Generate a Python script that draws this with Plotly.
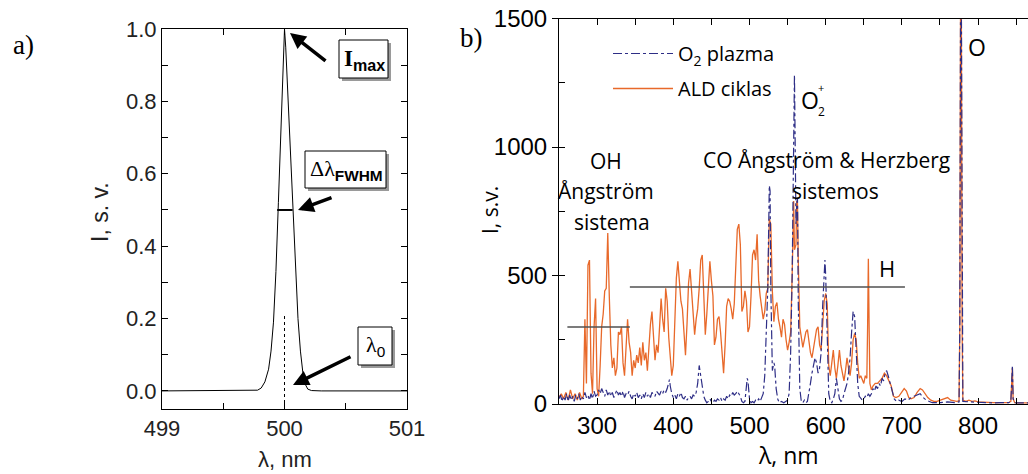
import plotly.graph_objects as go

W, H = 1028, 474


def fx(p):
    return p / W


def fy(p):
    return 1 - p / H


# ---------------- Panel a) data ----------------
peak_wavelength = [499.0, 499.7, 499.78, 499.81, 499.84, 499.87, 499.89, 499.91, 499.93, 499.95,
                   499.97, 499.99, 500.0, 500.01, 500.03, 500.05, 500.07, 500.09, 500.11, 500.13,
                   500.15, 500.17, 500.19, 500.22, 500.3, 501.0]
peak_intensity = [0, 0, 0.002, 0.008, 0.025, 0.06, 0.11, 0.19, 0.33, 0.52,
                  0.72, 0.92, 1.0, 0.95, 0.8, 0.62, 0.46, 0.32, 0.2, 0.11,
                  0.05, 0.018, 0.005, 0.001, 0, 0]
center_line_x = [500.0, 500.0]
center_line_y = [-0.05, 0.21]
fwhm_x = [499.94, 500.066]
fwhm_y = [0.5, 0.5]

# ---------------- Panel b) data ----------------
ald_wavelength = [250, 253, 256, 259, 262, 265, 268, 271, 274, 277, 280, 282,
                  284, 286, 288, 290, 292, 294, 296, 298, 300, 302, 304, 306, 308, 310, 312, 314, 316, 318,
                  320, 322, 324, 326, 328, 330, 332, 334, 336, 338, 340, 342, 344, 346, 348, 350, 352, 354,
                  356, 358, 360, 362, 364, 366, 368, 370, 372, 374, 376, 378, 380, 382, 384, 386, 388, 390,
                  392, 394, 396, 398, 400, 402, 404, 406, 408, 410, 412, 414, 416, 418, 420, 422, 424, 426,
                  428, 430, 432, 434, 436, 438, 440, 442, 444, 446, 448, 450, 452, 454, 456, 458, 460, 462,
                  464, 466, 468, 470, 472, 474, 476, 478, 480, 482, 484, 486, 488, 490, 492, 494, 496, 498,
                  500, 502, 504, 506, 508, 510, 512, 514, 516, 518, 520, 522, 524, 526, 528, 530, 532, 534,
                  536, 538, 540, 542, 544, 546, 548, 550, 552, 554, 556, 557, 558, 559, 561, 562, 563, 564,
                  566, 568, 570, 572, 574, 576, 578, 580, 582, 584, 586, 588, 590, 592, 594, 596, 598, 600,
                  602, 604, 606, 608, 610, 612, 614, 616, 618, 620, 622, 624, 626, 628, 630, 632, 634, 636,
                  638, 640, 642, 644, 646, 648, 650, 652, 654, 655, 656, 657, 658, 660, 662, 665, 668, 671,
                  674, 677, 680, 683, 686, 689, 692, 696, 700, 703, 706, 709, 712, 716, 720, 724, 727, 730,
                  734, 738, 742, 746, 750, 755, 760, 764, 768, 772, 775, 776, 777, 778, 779, 780, 784, 788,
                  792, 796, 800, 810, 820, 830, 840, 843, 844, 845, 846, 848, 855, 866]
ald_intensity = [25, 40, 20, 45, 15, 55, 20, 40, 15, 45, 20, 30,
                 330, 80, 540, 560, 120, 40, 300, 410, 60, 30, 150, 300, 350, 440, 450, 665, 420, 230,
                 140, 180, 110, 140, 280, 270, 300, 160, 110, 230, 330, 240, 200, 110, 170, 140, 190, 160,
                 220, 150, 240, 170, 200, 130, 240, 310, 360, 260, 170, 230, 200, 300, 410, 330, 280, 450,
                 400, 260, 180, 110, 150, 320, 490, 555, 480, 400, 370, 260, 190, 310, 470, 525, 430, 350,
                 270, 330, 370, 450, 560, 580, 380, 270, 350, 480, 555, 480, 420, 230, 260, 330, 340, 280,
                 200, 120, 230, 380, 410, 400, 370, 330, 390, 520, 680, 700, 620, 360, 380, 440, 400, 280,
                 300, 420, 580, 600, 560, 660, 480, 420, 370, 330, 360, 430, 450, 720, 700, 440, 320, 380,
                 395, 330, 300, 260, 330, 310, 250, 210, 240, 280, 500, 780, 790, 600, 620, 790, 780, 560,
                 300, 260, 220, 250, 280, 290, 240, 200, 180, 220, 260, 290, 300, 230, 210, 320, 400, 430,
                 390, 150, 110, 160, 210, 140, 100, 150, 210, 150, 110, 90, 130, 180, 140, 110, 160, 250,
                 275, 250, 160, 100, 110, 90, 80, 110, 100, 300, 565, 300, 80, 55, 70, 80, 80, 90,
                 100, 120, 110, 90, 70, 30, 25, 30, 45, 60, 50, 25, 20, 25, 45, 60, 55, 40,
                 25, 15, 10, 10, 15, 20, 25, 15, 12, 10, 12, 300, 1600, 1600, 300, 15, 10, 15,
                 10, 12, 8, 6, 5, 5, 5, 10, 120, 140, 20, 5, 4, 4]

o2_wavelength = [250, 252, 254, 256, 258, 260, 262, 264, 266, 268, 270, 272, 274, 276, 278, 280, 282, 284,
                 286, 288, 290, 292, 294, 296, 298, 300, 302, 304, 306, 308, 310, 312, 314, 316, 318, 320,
                 322, 324, 326, 328, 330, 332, 334, 336, 338, 340, 342, 344, 346, 348, 350, 352, 354, 356,
                 358, 360, 362, 364, 366, 368, 370, 372, 374, 376, 378, 380, 382, 384, 386, 388, 390, 392,
                 394, 395, 396, 398, 400, 402, 404, 406, 408, 410, 412, 414, 416, 418, 420, 422, 424, 426,
                 428, 430, 432, 434, 436, 438, 440, 442, 444, 446, 448, 450, 452, 454, 456, 458, 460, 462,
                 464, 466, 468, 470, 472, 474, 476, 478, 480, 482, 484, 486, 488, 490, 492, 494, 496, 497,
                 498, 500, 502, 504, 506, 508, 510, 512, 514, 516, 518, 520, 522, 524, 526, 527, 528, 530,
                 532, 533, 535, 537, 539, 542, 545, 548, 550, 552, 554, 556, 557, 558, 559, 560, 561, 562,
                 563, 564, 566, 568, 570, 572, 574, 576, 578, 580, 582, 584, 586, 588, 590, 592, 594, 596,
                 598, 599, 600, 602, 604, 606, 608, 610, 612, 614, 616, 618, 620, 622, 624, 626, 628, 630,
                 632, 634, 636, 638, 640, 642, 644, 646, 648, 650, 652, 654, 656, 658, 660, 662, 664, 666,
                 668, 670, 672, 674, 676, 678, 680, 682, 684, 686, 688, 690, 693, 696, 700, 704, 708, 712,
                 716, 720, 724, 728, 732, 736, 740, 750, 760, 770, 775, 776, 777, 778, 779, 780, 790, 800,
                 810, 820, 830, 840, 843, 844, 845, 846, 848, 856, 866]
o2_intensity = [20, 35, 10, 30, 15, 40, 10, 35, 15, 30, 10, 35, 20, 40, 15, 30, 20, 45,
                25, 35, 15, 40, 20, 50, 30, 35, 55, 40, 60, 45, 30, 55, 35, 50, 30, 45,
                25, 40, 55, 35, 45, 30, 50, 25, 40, 35, 50, 30, 20, 40, 30, 45, 25, 35,
                20, 40, 25, 45, 30, 40, 25, 45, 35, 30, 50, 40, 35, 50, 40, 55, 45, 60,
                80, 95, 70, 40, 25, 35, 20, 40, 30, 45, 25, 20, 30, 15, 25, 30, 20, 35,
                30, 45, 80, 150, 110, 60, 30, 15, 5, 10, 20, 10, 5, 15, 10, 20, 15, 25,
                10, 20, 15, 30, 20, 35, 30, 45, 35, 40, 50, 40, 30, 10, 5, 10, 60, 100,
                90, 20, 5, 10, 5, 15, 10, 20, 10, 25, 40, 110, 250, 450, 850, 830, 450, 130,
                160, 150, 60, 20, 5, 10, 5, 10, 15, 40, 200, 500, 800, 1000, 1280, 1000, 700, 780,
                800, 400, 60, 10, 5, 15, 5, 10, 40, 80, 120, 150, 180, 160, 120, 140, 200, 380,
                540, 560, 500, 250, 40, 10, 5, 20, 40, 100, 60, 20, 10, 15, 40, 60, 80, 120,
                180, 280, 360, 340, 200, 80, 30, 20, 15, 20, 30, 25, 40, 30, 40, 60, 50, 70,
                60, 80, 70, 100, 90, 120, 130, 110, 90, 70, 40, 20, 10, 15, 10, 20, 15, 25,
                30, 35, 40, 25, 15, 10, 5, 5, 8, 5, 8, 300, 1600, 1600, 300, 10, 8, 6,
                5, 4, 5, 5, 10, 130, 150, 20, 5, 4, 4]

oh_band = [261, 343, 300]      # x start, x end, level
co_band = [343, 704, 455]      # x start, x end, level

fig = go.Figure()

# ---- panel a traces ----
fig.add_trace(go.Scatter(x=peak_wavelength, y=peak_intensity, mode="lines",
                         line=dict(color="black", width=1), xaxis="x", yaxis="y", showlegend=False))
fig.add_trace(go.Scatter(x=center_line_x, y=center_line_y, mode="lines",
                         line=dict(color="black", width=1, dash="dot"), xaxis="x", yaxis="y",
                         showlegend=False))
fig.add_trace(go.Scatter(x=fwhm_x, y=fwhm_y, mode="lines",
                         line=dict(color="black", width=2), xaxis="x", yaxis="y", showlegend=False))

# ---- panel b traces ----
fig.add_trace(go.Scatter(x=ald_wavelength, y=ald_intensity, mode="lines", name="ALD ciklas",
                         line=dict(color="#E8692A", width=1.3), xaxis="x2", yaxis="y2",
                         legendgroup="b", legendrank=2))
fig.add_trace(go.Scatter(x=o2_wavelength, y=o2_intensity, mode="lines", name="O<sub>2</sub> plazma",
                         line=dict(color="#2E2E86", width=1.2, dash="dashdot"), xaxis="x2", yaxis="y2",
                         legendgroup="a", legendrank=1))
for band in (oh_band, co_band):
    fig.add_trace(go.Scatter(x=[band[0], band[1]], y=[band[2], band[2]], mode="lines",
                             line=dict(color="#505050", width=1.5), xaxis="x2", yaxis="y2",
                             showlegend=False))

axis_common = dict(showgrid=False, zeroline=False, showline=True, linecolor="black", linewidth=1,
                   tickcolor="black", automargin=False)

fig.update_layout(
    width=W, height=H, autosize=False,
    margin=dict(l=0, r=0, t=0, b=0, pad=0),
    paper_bgcolor="white", plot_bgcolor="white",
    xaxis=dict(domain=[fx(162), fx(407)], range=[499, 501], tickvals=[499, 500, 501],
               ticks="inside", ticklen=6, mirror="allticks",
               minor=dict(dtick=0.5, tick0=499, ticks="inside", ticklen=6, tickcolor="black"),
               tickfont=dict(family="Liberation Sans, Arial", size=22, color="#222"),
               anchor="y", **axis_common),
    yaxis=dict(domain=[fy(409), fy(29)], range=[-0.05, 1.0001], tick0=0, dtick=0.2,
               tickformat=".1f", ticks="inside", ticklen=6, mirror="allticks",
               minor=dict(dtick=0.1, tick0=0, ticks="inside", ticklen=6, tickcolor="black"),
               tickfont=dict(family="Liberation Sans, Arial", size=22, color="#222"),
               anchor="x", **axis_common),
    xaxis2=dict(domain=[fx(559), 1.0], range=[250, 865.5], tick0=0, dtick=100,
                ticks="inside", ticklen=6, mirror="allticks",
                minor=dict(dtick=50, tick0=0, ticks="inside", ticklen=6, tickcolor="black"),
                tickfont=dict(family="Liberation Sans, Arial", size=24, color="black"),
                anchor="y2", **axis_common),
    yaxis2=dict(domain=[fy(404), fy(18.5)], range=[0, 1500], tick0=0, dtick=500,
                ticks="outside", ticklen=6, mirror=False,
                minor=dict(dtick=250, tick0=0, ticks="inside", ticklen=6, tickcolor="black"),
                tickfont=dict(family="Liberation Sans, Arial", size=24, color="black"),
                anchor="x2", **axis_common),
    legend=dict(x=fx(608), y=fy(34), xanchor="left", yanchor="top", bgcolor="rgba(0,0,0,0)",
                font=dict(family="Open Sans", size=20, color="black"), tracegroupgap=6,
                itemwidth=60),
)

shadow = "#9a9a9a"
boxes = [  # (x0, y0, x1, y1) in pixels
    (339, 40, 388, 78),
    (305, 151, 386, 188),
    (358, 327, 392, 365),
]
shapes = []
for (x0, y0, x1, y1) in boxes:
    shapes.append(dict(type="rect", xref="paper", yref="paper",
                       x0=fx(x0 + 3), x1=fx(x1 + 3), y0=fy(y1 + 3), y1=fy(y0 + 3),
                       fillcolor=shadow, line=dict(width=0), layer="above"))
    shapes.append(dict(type="rect", xref="paper", yref="paper",
                       x0=fx(x0), x1=fx(x1), y0=fy(y1), y1=fy(y0),
                       fillcolor="white", line=dict(color="black", width=1), layer="above"))
fig.update_layout(shapes=shapes)

serif = "Liberation Serif, Times New Roman"
sans = "Liberation Sans, Arial"
op = "Open Sans"


def txt(x, y, text, size, family, color="black", angle=0, xanchor="center"):
    return dict(x=fx(x), y=fy(y), xref="paper", yref="paper", text=text, showarrow=False,
                font=dict(family=family, size=size, color=color), textangle=angle,
                xanchor=xanchor, yanchor="middle")


def arrow(hx, hy, tx, ty):
    return dict(x=fx(hx), y=fy(hy), xref="paper", yref="paper", ax=tx - hx, ay=ty - hy,
                axref="pixel", ayref="pixel", text="", showarrow=True, arrowhead=2,
                arrowsize=0.9, arrowwidth=3.5, arrowcolor="black")


annotations = [
    txt(23, 45, "a)", 27, serif),
    txt(471, 38, "b)", 27, serif),
    # panel a
    txt(100, 212, "I, s. v.", 23, sans, "#222", -90),
    txt(285, 459, "λ, nm", 22, sans, "#222"),
    txt(364, 60, "<b>I</b><sub><span style='font-family:Liberation Sans'><b>max</b></span></sub>",
        23, serif),
    txt(346, 170, "Δλ<sub><span style='font-family:Liberation Sans'><b>FWHM</b></span></sub>",
        22, serif),
    txt(375, 346, "λ<sub><span style='font-family:Liberation Sans'>0</span></sub>", 22, serif),
    arrow(290, 33, 327, 62),
    arrow(298, 210, 333, 197),
    arrow(293, 385, 352, 356),
    # panel b
    txt(490, 210, "I, s.v.", 21, op, angle=-90),
    txt(788, 455, "λ, nm", 23, op),
    txt(606, 161, "OH", 21, op),
    txt(606, 191, "Ångström", 21, op),
    txt(612, 222, "sistema", 21, op),
    txt(826, 160, "CO Ångström &amp; Herzberg", 21, op),
    txt(835, 191, "sistemos", 21, op),
    txt(887, 268, "H", 22, op),
    txt(977, 47, "O", 23, op),
    txt(810, 100, "O", 23, op),
    txt(821, 88, "+", 11, op),
    txt(821, 111, "2", 12, op),
]
fig.update_layout(annotations=annotations)

fig.write_html("out.html")
